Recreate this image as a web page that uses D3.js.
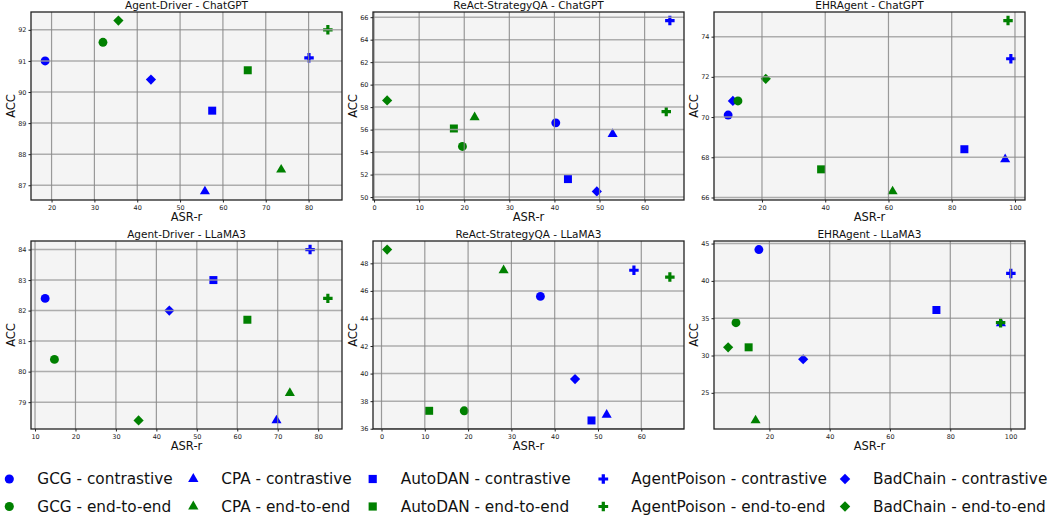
<!DOCTYPE html>
<html>
<head>
<meta charset="utf-8">
<script src="https://cdn.jsdelivr.net/npm/d3@7"></script>
<style>
  body { margin: 0; background: #fff; }
  svg { font-family: "DejaVu Sans", sans-serif; }
</style>
</head>
<body>
<div id="chart"></div>
<script>
// panel titles, row by row
const titles = [
  "Agent-Driver - ChatGPT", "ReAct-StrategyQA - ChatGPT", "EHRAgent - ChatGPT",
  "Agent-Driver - LLaMA3", "ReAct-StrategyQA - LLaMA3", "EHRAgent - LLaMA3"
];

// attack methods, same order in every value array below
const methods = ["GCG", "CPA", "AutoDAN", "AgentPoison", "BadChain"];

// ASR-r / ACC for the contrastive setting, one row per panel
const conASR = [
  [18.5, 55.8, 57.5, 80.1, 43.2],
  [40.3, 52.9, 43.0, 65.6, 49.4],
  [9.3, 96.9, 84.0, 98.7, 10.8],
  [12.5, 69.7, 54.1, 78.0, 43.2],
  [36.7, 52.0, 48.5, 58.3, 44.7],
  [16.5, 96.8, 75.4, 100.1, 31.2]
];
const conACC = [
  [91.0, 86.8, 89.4, 91.1, 90.4],
  [56.6, 55.6, 51.6, 65.7, 50.5],
  [70.1, 67.9, 68.4, 72.9, 70.8],
  [82.4, 78.4, 83.0, 84.0, 82.0],
  [45.6, 37.0, 36.6, 47.5, 39.6],
  [44.2, 34.3, 36.1, 41.0, 29.5]
];

// ASR-r / ACC for the end-to-end setting
const e2eASR = [
  [32.0, 73.6, 65.8, 84.5, 35.6],
  [19.6, 22.3, 17.7, 64.8, 2.9],
  [12.4, 61.3, 38.7, 97.8, 21.2],
  [14.8, 73.0, 62.5, 82.4, 35.6],
  [19.1, 28.2, 11.0, 66.6, 1.3],
  [8.9, 15.4, 13.1, 96.7, 6.3]
];
const e2eACC = [
  [91.6, 87.5, 90.7, 92.0, 92.3],
  [54.5, 57.1, 56.1, 57.6, 58.6],
  [70.8, 66.3, 67.4, 74.8, 71.9],
  [80.4, 79.3, 81.7, 82.4, 78.4],
  [37.3, 47.5, 37.3, 47.0, 49.0],
  [34.4, 21.3, 31.1, 34.4, 31.1]
];

// tick values per panel
const xTicks = [
  [20, 30, 40, 50, 60, 70, 80],
  [0, 10, 20, 30, 40, 50, 60],
  [20, 40, 60, 80, 100],
  [10, 20, 30, 40, 50, 60, 70, 80],
  [0, 10, 20, 30, 40, 50, 60],
  [20, 40, 60, 80, 100]
];
const yTicks = [
  [87, 88, 89, 90, 91, 92],
  [50, 52, 54, 56, 58, 60, 62, 64, 66],
  [66, 68, 70, 72, 74],
  [79, 80, 81, 82, 83, 84],
  [36, 38, 40, 42, 44, 46, 48],
  [25, 30, 35, 40, 45]
];

const settings = ["contrastive", "end-to-end"];
const colors = ["#0000ff", "#008000"];

const svgWidth = 1063;
const svgHeight = 518;

const panelLefts = [31, 373, 714];
const panelTops = [12, 241];
const panelW = 311;
const panelH = 188;

// legend column starts (marker centre), rows
const legendCols = [9.3, 193.3, 372.7, 603.3, 845];
const legendRows = [479, 506.5];

const svg = d3.select("#chart")
  .append("svg")
  .attr("width", svgWidth)
  .attr("height", svgHeight);

// marker shapes (diamond = rotated square, like matplotlib "D")
const shapes = [
  {type: d3.symbolCircle, size: 62, rot: 0},
  {type: d3.symbolTriangle, size: 44, rot: 0},
  {type: d3.symbolSquare, size: 64, rot: 0},
  {type: d3.symbolCross, size: 50, rot: 0},
  {type: d3.symbolSquare, size: 52, rot: 45}
];

function padExtent(vals) {
  const [lo, hi] = d3.extent(vals);
  const m = (hi - lo) * 0.05;
  return [lo - m, hi + m];
}

titles.forEach(function(title, p) {
  const left = panelLefts[p % 3];
  const top = panelTops[Math.floor(p / 3)];

  const g = svg.append("g")
    .attr("transform", `translate(${left}, ${top})`);

  const allX = conASR[p].concat(e2eASR[p]);
  const allY = conACC[p].concat(e2eACC[p]);

  const x = d3.scaleLinear().domain(padExtent(allX)).range([0, panelW]);
  const y = d3.scaleLinear().domain(padExtent(allY)).range([panelH, 0]);

  g.append("rect")
    .attr("width", panelW)
    .attr("height", panelH)
    .attr("fill", "#f4f4f4");

  // points: all contrastive first, then end-to-end on top
  const pts = [];
  [conASR, e2eASR].forEach(function(src, s) {
    const accs = s === 0 ? conACC : e2eACC;
    methods.forEach(function(m, i) {
      pts.push({x: src[p][i], y: accs[p][i], m: i, s: s});
    });
  });

  g.selectAll(".pt")
    .data(pts)
    .enter()
    .append("path")
    .attr("class", "pt")
    .attr("d", d => d3.symbol().type(shapes[d.m].type).size(shapes[d.m].size)())
    .attr("transform", d => `translate(${x(d.x)}, ${y(d.y)}) rotate(${shapes[d.m].rot})`)
    .attr("fill", d => colors[d.s]);

  // grid drawn over the markers, as in the source figure
  g.selectAll(".hgrid")
    .data(yTicks[p])
    .enter()
    .append("line")
    .attr("x1", 0).attr("x2", panelW)
    .attr("y1", d => y(d)).attr("y2", d => y(d))
    .attr("stroke", "#a0a0a0")
    .attr("stroke-opacity", 0.85)
    .attr("stroke-width", 1.5);

  g.selectAll(".vgrid")
    .data(xTicks[p])
    .enter()
    .append("line")
    .attr("y1", 0).attr("y2", panelH)
    .attr("x1", d => x(d)).attr("x2", d => x(d))
    .attr("stroke", "#888")
    .attr("stroke-opacity", 0.85)
    .attr("stroke-width", 1.2);

  const xAxis = g.append("g")
    .attr("transform", `translate(0, ${panelH})`)
    .call(d3.axisBottom(x).tickValues(xTicks[p]).tickFormat(d3.format("d"))
      .tickSize(2.5).tickPadding(2.5));
  const yAxis = g.append("g")
    .call(d3.axisLeft(y).tickValues(yTicks[p]).tickFormat(d3.format("d"))
      .tickSize(2.5).tickPadding(2));

  [xAxis, yAxis].forEach(function(ax) {
    ax.select(".domain").remove();
    ax.selectAll("text")
      .attr("font-size", 6.5)
      .attr("fill", "#222")
      .attr("font-family", "DejaVu Sans");
    ax.selectAll("line").attr("stroke", "#222");
  });

  g.append("rect")
    .attr("width", panelW)
    .attr("height", panelH)
    .attr("fill", "none")
    .attr("stroke", "#222")
    .attr("stroke-width", 1.3);

  g.append("text")
    .attr("x", panelW / 2)
    .attr("y", -3)
    .attr("text-anchor", "middle")
    .attr("font-size", 10.5)
    .attr("fill", "#111")
    .text(title);

  g.append("text")
    .attr("x", panelW / 2)
    .attr("y", panelH + 20.5)
    .attr("text-anchor", "middle")
    .attr("font-size", 11.5)
    .attr("fill", "#111")
    .text("ASR-r");

  g.append("text")
    .attr("transform", `translate(-20, ${panelH / 2}) rotate(-90)`)
    .attr("text-anchor", "middle")
    .attr("dominant-baseline", "central")
    .attr("font-size", 11.5)
    .attr("fill", "#111")
    .text("ACC");
});

// legend: 5 columns x 2 rows
const legend = svg.append("g");
methods.forEach(function(m, i) {
  settings.forEach(function(s, r) {
    legend.append("path")
      .attr("d", d3.symbol().type(shapes[i].type).size(shapes[i].size * 1.05)())
      .attr("transform", `translate(${legendCols[i]}, ${legendRows[r]}) rotate(${shapes[i].rot})`)
      .attr("fill", colors[r]);
    legend.append("text")
      .attr("x", legendCols[i] + 28)
      .attr("y", legendRows[r])
      .attr("dominant-baseline", "central")
      .attr("font-size", 15.3)
      .attr("fill", "#111")
      .text(`${m} - ${s}`);
  });
});
</script>
</body>
</html>
